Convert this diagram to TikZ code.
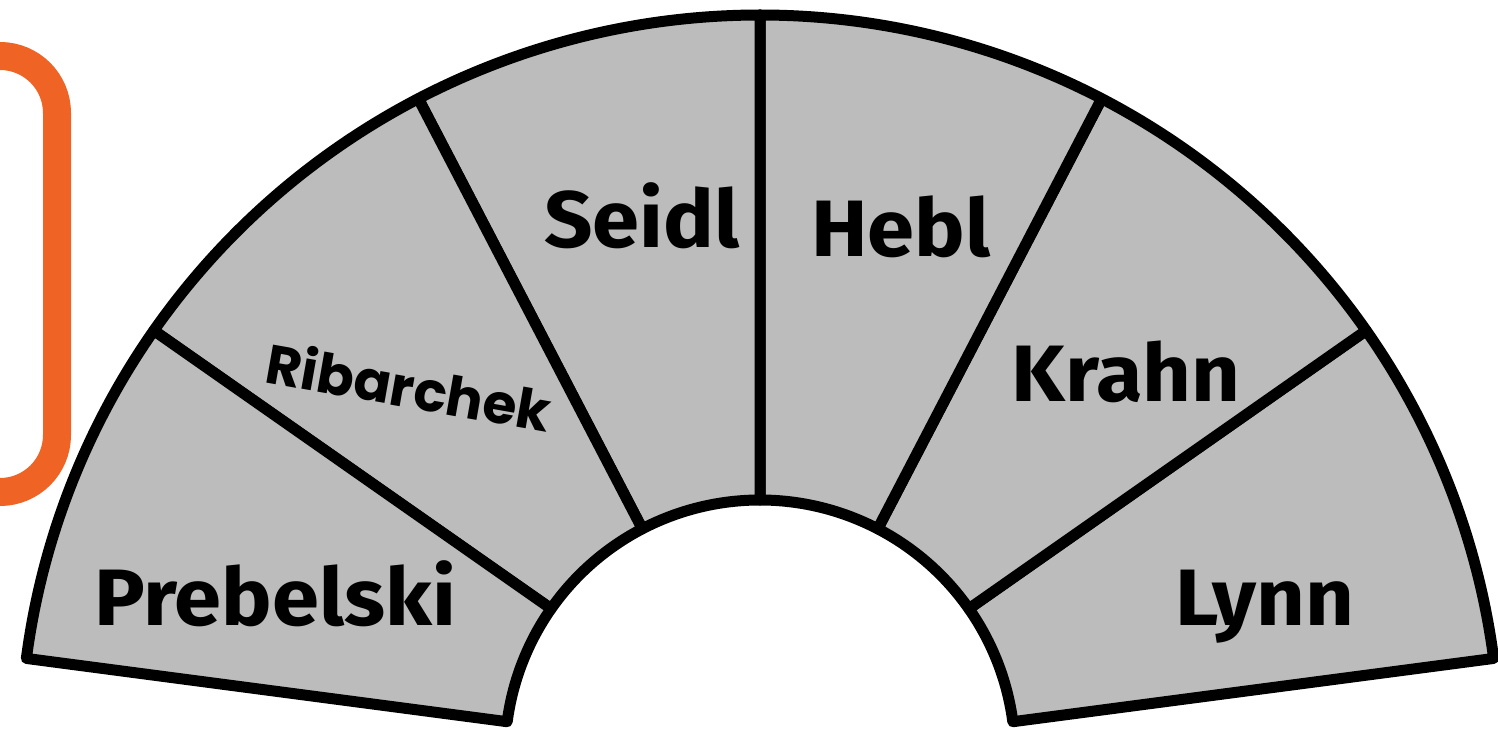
\documentclass[tikz,border=0pt]{standalone}
\usepackage{fontspec}
\setmainfont{Fira Sans}[FakeStretch=1.06]
\newfontfamily\ribfont{Poppins}
\usepackage{xcolor}
\definecolor{seatgray}{RGB}{188,188,188}
\definecolor{frameorange}{RGB}{239,99,37}
\tikzset{
  seat/.style={fill=seatgray, draw=black, line width=11pt, line join=round},
  seatlabel/.style={font=\fontsize{80}{80}\selectfont\bfseries, anchor=base, inner sep=0pt}
}
\begin{document}
\begin{tikzpicture}[x=1pt, y=1pt]
    \useasboundingbox (0,0) rectangle (1498,740);
    \clip (0,0) rectangle (1498,740);
    % orange frame, cut off at the left
    \draw[frameorange, line width=28pt, rounded corners=57pt] (-150,684) rectangle (57,248);
    % the six seats
    \begin{scope}[shift={(760,-15)}]
        \foreach \i in {0,...,5} {
            \pgfmathsetmacro{\a}{7.5+27.5*\i}
            \pgfmathsetmacro{\b}{\a+27.5}
            \draw[seat] (\a:255) arc[start angle=\a, end angle=\b, radius=255]
                -- (\b:740) arc[start angle=\b, end angle=\a, radius=740] -- cycle;
        }
    \end{scope}
    \node[seatlabel] (prebelski) at (275,115) {Prebelski};
    \node[seatlabel, font=\ribfont\fontsize{55}{55}\selectfont\bfseries, anchor=center, rotate=-10] (ribarchek) at (409,354) {Ribarchek};
    \node[seatlabel] (seidl) at (642,492) {Seidl};
    \node[seatlabel] (hebl) at (901,483) {Hebl};
    \node[seatlabel] (krahn) at (1126,339) {Krahn};
    \node[seatlabel] (lynn) at (1265,115) {Lynn};
\end{tikzpicture}
\end{document}
